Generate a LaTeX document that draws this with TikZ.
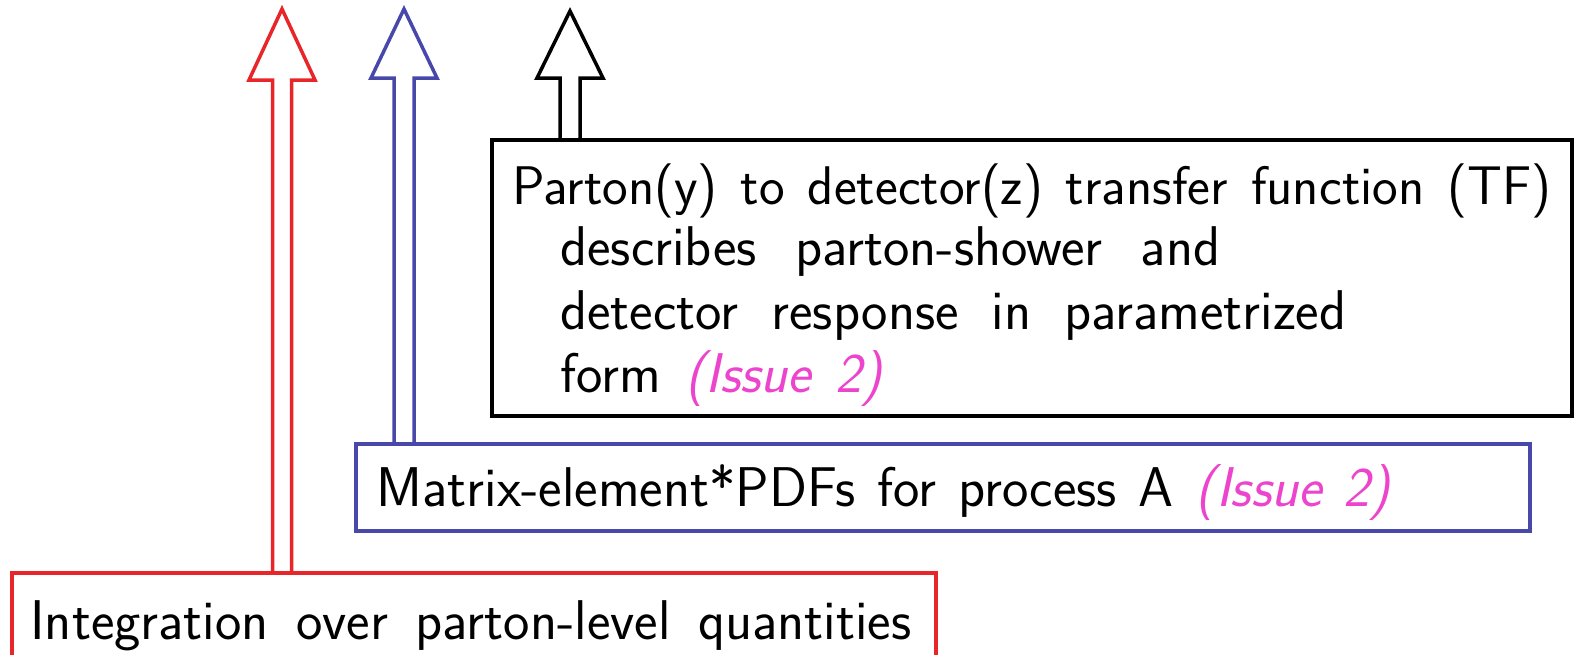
\documentclass[tikz,border=0pt]{standalone}
\usetikzlibrary{calc}
\definecolor{cred}{RGB}{232,38,42}
\definecolor{cblue}{RGB}{72,72,170}
\definecolor{cmag}{RGB}{236,68,204}
\newcommand{\myfnt}{\fontsize{28}{32}\selectfont\sffamily\spaceskip=0.45em plus 1em minus 0.2em\relax}
\newcommand{\myfntA}{\fontsize{27.2}{32}\selectfont\sffamily\spaceskip=0.45em plus 1em minus 0.2em\relax}
\newcommand{\spread}[2]{\makebox[#1][s]{#2}}
\begin{document}
\begin{tikzpicture}[x=0.5pt,y=-0.5pt,
  boxst/.style={draw,line width=1.75pt,rectangle,inner sep=0pt,anchor=north west},
  txt/.style={anchor=base west,inner sep=0pt,font=\myfnt},
  arr/.style={line width=1.75pt,line join=miter}]
\useasboundingbox (0,0) rectangle (1579,654);
% boxes
\node[boxst,draw=black,minimum width=540pt,minimum height=138pt] (tfbox) at (490,138) {};
\node[boxst,draw=cblue,minimum width=587pt,minimum height=43.5pt] (mebox) at (354,442) {};
\node[boxst,draw=cred,minimum width=462pt,minimum height=60pt] (intbox) at (10,571) {};
% texts
\node[txt,font=\myfntA] (t1) at (512,204) {\spread{519.5pt}{Parton(y) to detector(z) transfer function (TF)}};
\node[txt] (t2) at (560,265) {\spread{330pt}{describes parton-shower and}};
\node[txt] (t3) at (560,329) {\spread{393pt}{detector response in parametrized}};
\node[txt] (t4) at (560,392) {\spread{161pt}{form \textcolor{cmag}{\itshape(Issue 2)}}};
\node[txt] (m1) at (376,506) {\spread{507pt}{Matrix-element*PDFs for process A \textcolor{cmag}{\itshape(Issue 2)}}};
\node[txt] (i1) at (30,639) {\spread{440.5pt}{Integration over parton-level quantities}};
% arrow tips
\coordinate (rtip) at (282,9);
\coordinate (btip) at (404,9);
\coordinate (ktip) at (570,11);
% red arrow
\draw[arr,cred] ($(rtip |- intbox.north)+(-9.5,0)$) -- ($(rtip)+(-9.5,71)$) -- ($(rtip)+(-33,71)$) -- (rtip)
  -- ($(rtip)+(33,71)$) -- ($(rtip)+(9.5,71)$) -- ($(rtip |- intbox.north)+(9.5,0)$);
% blue arrow
\draw[arr,cblue] ($(btip |- mebox.north)+(-10,0)$) -- ($(btip)+(-10,69)$) -- ($(btip)+(-33,69)$) -- (btip)
  -- ($(btip)+(33,69)$) -- ($(btip)+(10,69)$) -- ($(btip |- mebox.north)+(10,0)$);
% black arrow
\draw[arr,black] ($(ktip |- tfbox.north)+(-10,0)$) -- ($(ktip)+(-10,67)$) -- ($(ktip)+(-33,67)$) -- (ktip)
  -- ($(ktip)+(33,67)$) -- ($(ktip)+(10,67)$) -- ($(ktip |- tfbox.north)+(10,0)$);
\end{tikzpicture}
\end{document}
